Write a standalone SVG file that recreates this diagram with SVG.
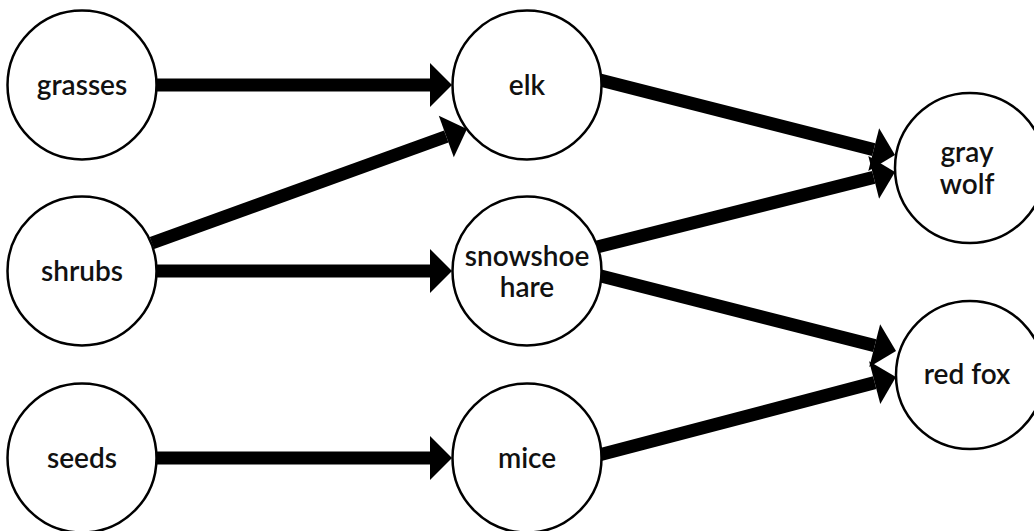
<svg xmlns="http://www.w3.org/2000/svg" width="1034" height="531" viewBox="0 0 1034 531">
<style>
.node circle{fill:#fff;stroke:#000;stroke-width:2.5}
.node text{font-family:Lato,"Open Sans","Liberation Sans",sans-serif;font-size:28px;font-weight:600;text-anchor:middle;fill:#111}
.edge{stroke:#000;stroke-width:13;fill:none;marker-end:url(#ah)}
</style>
<defs>
<marker id="ah" markerUnits="userSpaceOnUse" markerWidth="24" markerHeight="44" refX="0" refY="22" orient="auto" overflow="visible">
<path d="M0,0 L22,22 L0,44 Z" fill="#000"/>
</marker>
</defs>
<rect width="1034" height="531" fill="#fff"/>
<g id="connectors">
<line class="edge" x1="150" y1="85" x2="430" y2="85"/>
<line class="edge" x1="152" y1="243" x2="446.3" y2="136.5"/>
<line class="edge" x1="150" y1="271" x2="430" y2="271"/>
<line class="edge" x1="150" y1="458" x2="430" y2="458"/>
<line class="edge" x1="598" y1="79.5" x2="873.7" y2="149.6"/>
<line class="edge" x1="595" y1="247.5" x2="873.7" y2="177.4"/>
<line class="edge" x1="595" y1="274.5" x2="874.7" y2="345.6"/>
<line class="edge" x1="597" y1="455.5" x2="874.7" y2="382.6"/>
</g>
<g id="grasses" class="node"><circle cx="82" cy="85" r="74.5"/><text x="82" y="95">grasses</text></g>
<g id="shrubs" class="node"><circle cx="82" cy="271" r="74.5"/><text x="82" y="281">shrubs</text></g>
<g id="seeds" class="node"><circle cx="82" cy="458" r="74.5"/><text x="82" y="468">seeds</text></g>
<g id="elk" class="node"><circle cx="527" cy="85" r="74.5"/><text x="527" y="95">elk</text></g>
<g id="snowshoe-hare" class="node"><circle cx="527" cy="271" r="74.5"/><text x="527" y="266">snowshoe</text><text x="527" y="297">hare</text></g>
<g id="mice" class="node"><circle cx="527" cy="458" r="74.5"/><text x="527" y="468">mice</text></g>
<g id="gray-wolf" class="node"><circle cx="970" cy="168" r="75"/><text x="967" y="162">gray</text><text x="967" y="194">wolf</text></g>
<g id="red-fox" class="node"><circle cx="970" cy="375" r="74"/><text x="967" y="384">red fox</text></g>
</svg>
